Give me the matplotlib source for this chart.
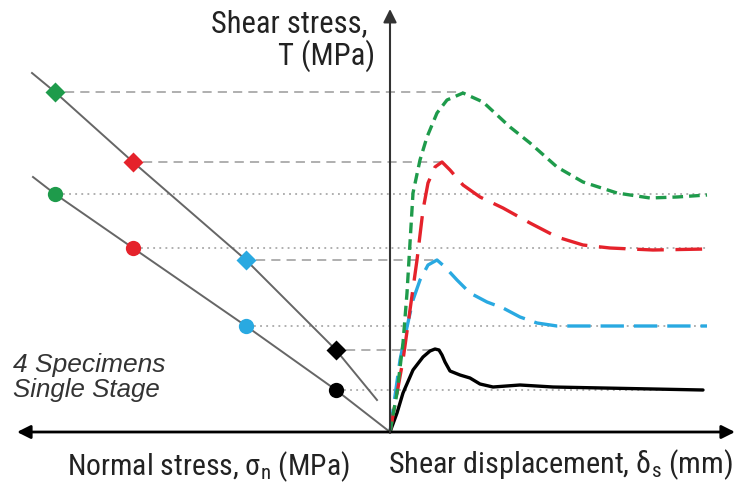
import matplotlib
matplotlib.use("Agg")
import matplotlib.pyplot as plt
import numpy as np
from matplotlib import font_manager

names = {f.name for f in font_manager.fontManager.ttflist}


def pick(cands, default='DejaVu Sans'):
    for c in cands:
        if c in names:
            return c
    return default


narrow = pick(['Liberation Sans Narrow', 'Arial Narrow', 'Roboto Condensed',
               'Archivo Narrow', 'PT Sans Narrow'])
regular = pick(['Liberation Sans', 'Arimo', 'DejaVu Sans'])
plt.rcParams['font.family'] = [narrow, 'DejaVu Sans']
plt.rcParams['mathtext.fontset'] = 'custom'
plt.rcParams['mathtext.rm'] = narrow
plt.rcParams['mathtext.it'] = narrow + ':italic'

# ---- data (schematic units: x = displacement / normal stress, y = shear stress) ----
specimens = ['green', 'red', 'blue', 'black']
colors = ['#1e9b4b', '#e5222b', '#29a9e1', '#000000']

# failure envelope points (normal stress, shear stress)
sigma_n = [335, 257, 144, 54]
tau_peak = [340, 270, 172, 82]
tau_resid = [238, 184, 106, 42]

peak_env_sigma = [358, 335, 257, 144, 54, 13]
peak_env_tau = [359, 340, 270, 172, 82, 32]
resid_env_sigma = [357, 335, 257, 144, 54, 0]
resid_env_tau = [255, 238, 184, 106, 42, 0]

# shear stress - displacement curves
green_x = [0, 7, 13, 17, 20, 23, 30, 37, 47, 57, 73, 93, 120, 140, 167, 193, 227, 260, 287, 317]
green_y = [0, 39, 89, 139, 189, 239, 272, 295, 319, 332, 339, 330, 305, 289, 265, 250, 239, 234, 235, 237]
red_x = [0, 13, 20, 27, 33, 38, 45, 52, 60, 73, 90, 113, 140, 167, 193, 220, 263, 317]
red_y = [0, 72, 122, 172, 222, 249, 265, 270, 262, 247, 235, 224, 209, 195, 187, 184, 182, 183]
blue_x = [0, 10, 17, 23, 30, 38, 47, 55, 67, 80, 97, 113, 130, 147, 167, 317]
blue_y = [0, 72, 105, 132, 152, 167, 172, 165, 152, 139, 130, 124, 115, 109, 106, 106]
black_x = [0, 7, 13, 23, 33, 40, 45, 49, 52, 55, 60, 70, 80, 90, 103, 130, 163, 313]
black_y = [0, 19, 39, 62, 75, 81, 83, 82, 77, 70, 61, 57, 54, 48, 45, 47, 45, 42]

curves = [(green_x, green_y), (red_x, red_y), (blue_x, blue_y), (black_x, black_y)]
curve_styles = [(0, (3.2, 1.8)), (0, (8, 3.5)), (0, (7, 3)), '-']

fig = plt.figure(figsize=(7.37, 4.93), dpi=100)
ax = fig.add_axes([0, 0, 1, 1])
ax.set_xlim(-390, 347)
ax.set_ylim(-61, 432)
ax.axis('off')

gray = '#9a9a9a'
# reference lines
for i in range(4):
    cx, cy = curves[i]
    pk = int(np.argmax(cy))
    ax.plot([-sigma_n[i] + 10, cx[pk]], [tau_peak[i]] * 2, color=gray, lw=1.1,
            ls=(0, (6, 4)), zorder=1)
    ax.plot([-sigma_n[i] + 8, cx[-1]], [tau_resid[i]] * 2, color=gray, lw=1.1,
            ls=(0, (1.2, 2.8)), zorder=1)

# envelopes
ax.plot(-np.array(peak_env_sigma), peak_env_tau, color='#666666', lw=1.4, zorder=2)
ax.plot(-np.array(resid_env_sigma), resid_env_tau, color='#666666', lw=1.4, zorder=2)

# markers
for i in range(4):
    ax.plot(-sigma_n[i], tau_peak[i], marker='D', ms=10, color=colors[i], mec='none', zorder=4)
    ax.plot(-sigma_n[i], tau_resid[i], marker='o', ms=11, color=colors[i], mec='none', zorder=4)

# curves
for i in range(4):
    cx, cy = curves[i]
    ax.plot(cx, cy, color=colors[i], lw=2.4, ls=curve_styles[i], zorder=5 - i * 0.1,
            solid_capstyle='round', solid_joinstyle='round')

# axes arrows
ax.annotate('', xy=(345, 0), xytext=(-373, 0),
            arrowprops=dict(arrowstyle='<|-|>', lw=2.0, color='black',
                            mutation_scale=20, shrinkA=0, shrinkB=0), zorder=6)
ax.annotate('', xy=(0, 423), xytext=(0, 0),
            arrowprops=dict(arrowstyle='-|>', lw=1.5, color='#333333',
                            mutation_scale=20, shrinkA=0, shrinkB=0), zorder=6)

# texts (target widths in pixels used to fit the font size)
txt_color = '#222222'
texts = [
    (ax.text(-22, 400, 'Shear stress,', ha='right', va='baseline', fontsize=18,
             color=txt_color), 156),
    (ax.text(-15, 367, 'T (MPa)', ha='right', va='baseline', fontsize=18,
             color=txt_color), 97),
    (ax.text(-323, -43, r'Normal stress, σ$_{\mathregular{n}}$ (MPa)', ha='left',
             va='baseline', fontsize=18, color=txt_color), 283),
    (ax.text(-2, -41, r'Shear displacement, δ$_{\mathregular{s}}$ (mm)', ha='left',
             va='baseline', fontsize=18, color=txt_color), 345),
    (ax.text(-377, 60, '4 Specimens', ha='left', va='baseline', fontsize=18,
             style='italic', color='#333333', family=[regular, 'DejaVu Sans']), 152),
    (ax.text(-377, 35, 'Single Stage', ha='left', va='baseline', fontsize=18,
             style='italic', color='#333333', family=[regular, 'DejaVu Sans']), 147),
]
for _ in range(2):
    fig.canvas.draw()
    r = fig.canvas.get_renderer()
    for t, w in texts:
        cur = t.get_window_extent(r).width
        t.set_fontsize(t.get_fontsize() * w / cur)

fig.savefig('out.png', dpi=100)
